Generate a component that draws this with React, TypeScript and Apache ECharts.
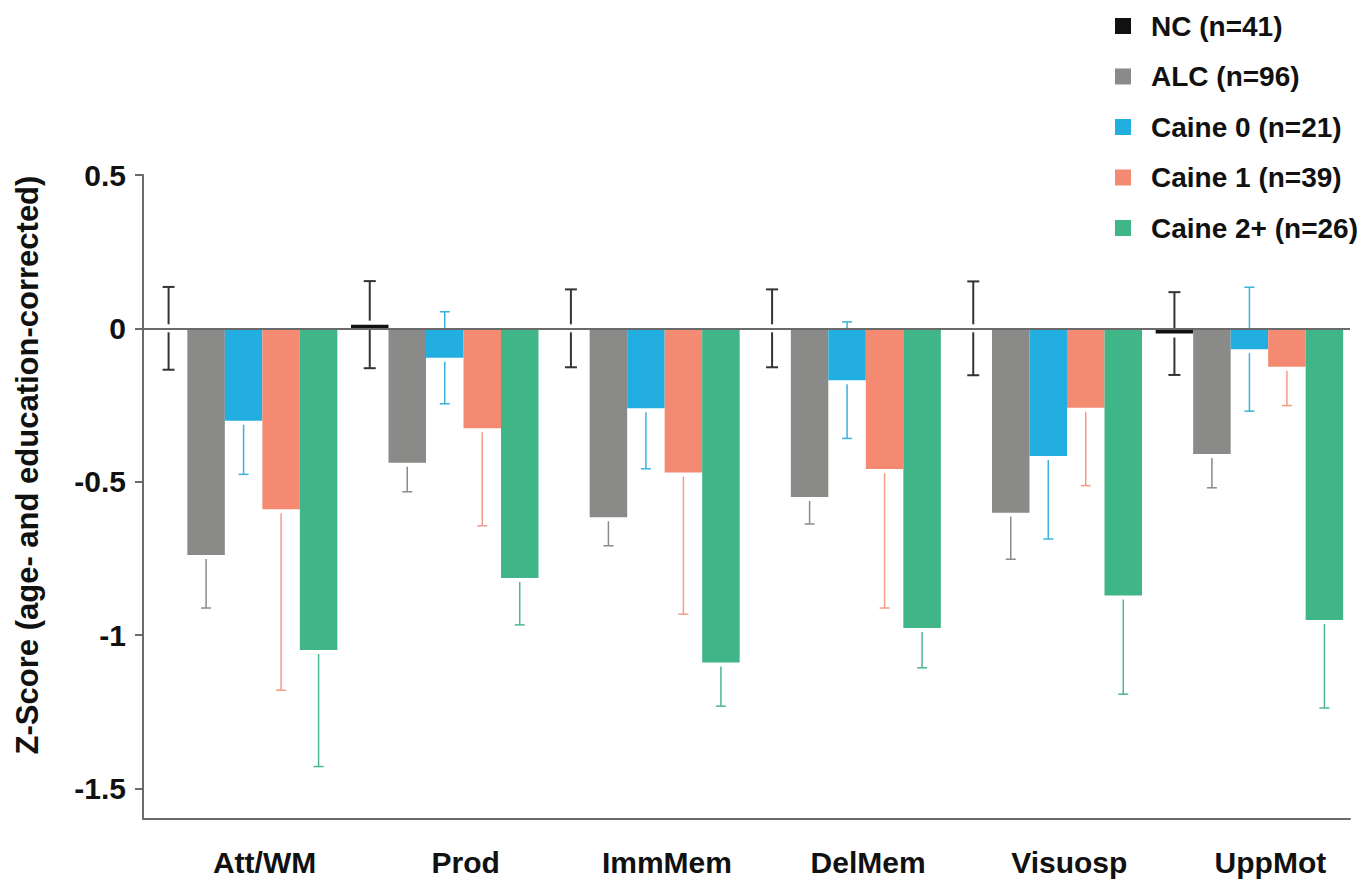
import React, { useEffect, useRef } from "react";
import * as echarts from "echarts";

const categories = ["Att/WM", "Prod", "ImmMem", "DelMem", "Visuosp", "UppMot"];
const groupNames = ["NC (n=41)", "ALC (n=96)", "Caine 0 (n=21)", "Caine 1 (n=39)", "Caine 2+ (n=26)"];
const groupColors = ["#111111", "#8a8a88", "#22aee0", "#f58a72", "#40b688"];
const errColors = ["#333333", "#8a8a88", "#3ab2de", "#f39c88", "#4cb88c"];

const ncValues = [0, 0.012, 0, 0, 0, -0.017];
const ncErr = [0.135, 0.142, 0.127, 0.127, 0.153, 0.135];
const alcValues = [-0.739, -0.438, -0.616, -0.55, -0.601, -0.41];
const alcErr = [0.173, 0.095, 0.093, 0.088, 0.152, 0.11];
const caine0Values = [-0.301, -0.096, -0.261, -0.169, -0.416, -0.068];
const caine0Err = [0.175, 0.15, 0.197, 0.19, 0.271, 0.202];
const caine1Values = [-0.59, -0.326, -0.47, -0.459, -0.259, -0.125];
const caine1Err = [0.59, 0.318, 0.462, 0.453, 0.254, 0.127];
const caine2Values = [-1.049, -0.814, -1.09, -0.977, -0.871, -0.951];
const caine2Err = [0.38, 0.153, 0.142, 0.13, 0.322, 0.287];

const yTickValues = [-1.5, -1, -0.5, 0, 0.5];
const yTitle = "Z-Score (age- and education-corrected)";

const FONT = '"Liberation Sans", Arial, Helvetica, sans-serif';
const BAR_W = 37.5;
const GAP = 4;

export default function App() {
  const ref = useRef<HTMLDivElement>(null);
  useEffect(() => {
    if (!ref.current) return;
    const chart = echarts.init(ref.current, undefined, { renderer: "svg" });
    const values = [ncValues, alcValues, caine0Values, caine1Values, caine2Values];
    const errs = [ncErr, alcErr, caine0Err, caine1Err, caine2Err];

    const barSeries = groupNames.map((name, k) => ({
      name,
      type: "bar",
      data: values[k],
      barWidth: BAR_W,
      barGap: "0%",
      itemStyle: { color: groupColors[k] },
      z: 3,
      silent: true,
    }));

    const errSeries = groupNames.map((name, k) => ({
      name: name + " err",
      type: "custom",
      z: 1,
      silent: true,
      data: values[k].map((v, i) => [i, v, errs[k][i]]),
      renderItem: (params: any, api: any) => {
        const i = api.value(0);
        const v = api.value(1);
        const e = api.value(2);
        const c = api.coord([i, v]);
        const x = c[0] + (k - 2) * BAR_W;
        const yv = c[1];
        const yTop = api.coord([i, v + e])[1];
        const yBot = api.coord([i, v - e])[1];
        const hw = k === 0 ? 6 : 5;
        const lw = k === 0 ? 2 : 1.5;
        const style = { stroke: errColors[k], lineWidth: lw };
        const children: any[] = [
          { type: "line", shape: { x1: x, y1: yv + GAP, x2: x, y2: yBot }, style },
          { type: "line", shape: { x1: x - hw, y1: yBot, x2: x + hw, y2: yBot }, style },
        ];
        if (v >= 0 || v + e > 0.02) {
          children.push(
            { type: "line", shape: { x1: x, y1: yTop, x2: x, y2: yv - GAP }, style },
            { type: "line", shape: { x1: x - hw, y1: yTop, x2: x + hw, y2: yTop }, style }
          );
        }
        return { type: "group", children };
      },
      ...(k === 0
        ? {
            markLine: {
              silent: true,
              symbol: "none",
              label: { show: false },
              lineStyle: { color: "#6a6a6a", width: 2, type: "solid" },
              data: [{ yAxis: 0 }],
            },
          }
        : {}),
    }));

    chart.setOption({
      animation: false,
      backgroundColor: "#ffffff",
      textStyle: { fontFamily: FONT },
      grid: { left: 143, right: 21, top: 175, bottom: 63, containLabel: false },
      legend: {
        data: groupNames,
        orient: "vertical",
        left: 1110,
        top: 6,
        itemGap: 20.5,
        itemWidth: 16,
        itemHeight: 16,
        icon: "rect",
        selectedMode: false,
        textStyle: {
          fontSize: 28,
          fontWeight: "bold",
          color: "#111",
          fontFamily: FONT,
          lineHeight: 30,
          padding: [0, 0, 0, 15],
        },
      },
      xAxis: {
        type: "category",
        data: categories,
        axisLine: { show: true, onZero: false, lineStyle: { color: "#6a6a6a", width: 2 } },
        axisTick: { show: false },
        axisLabel: {
          fontSize: 30,
          fontWeight: "bold",
          color: "#111",
          fontFamily: FONT,
          margin: 28,
          padding: [0, 0, 0, 42],
          interval: 0,
        },
        splitLine: { show: false },
      },
      yAxis: {
        type: "value",
        min: -1.6,
        max: 0.5,
        axisLine: { show: true, lineStyle: { color: "#6a6a6a", width: 2 } },
        axisTick: {
          show: true,
          length: 8,
          customValues: yTickValues,
          lineStyle: { color: "#6a6a6a", width: 2 },
        },
        axisLabel: {
          customValues: yTickValues,
          fontSize: 30,
          fontWeight: "bold",
          color: "#111",
          fontFamily: FONT,
          margin: 17,
          formatter: (v: number) => String(v),
        },
        splitLine: { show: false },
      },
      graphic: [
        {
          type: "text",
          x: 27,
          y: 465,
          rotation: Math.PI / 2,
          style: {
            text: yTitle,
            fontSize: 31,
            fontWeight: "bold",
            fontFamily: FONT,
            fill: "#111",
            align: "center",
            verticalAlign: "middle",
          },
        },
      ],
      series: [...errSeries, ...barSeries],
    });
    return () => chart.dispose();
  }, []);
  return (
    <div
      ref={ref}
      style={{ position: "fixed", left: 0, top: 0, width: "1371px", height: "882px", background: "#fff" }}
    />
  );
}
